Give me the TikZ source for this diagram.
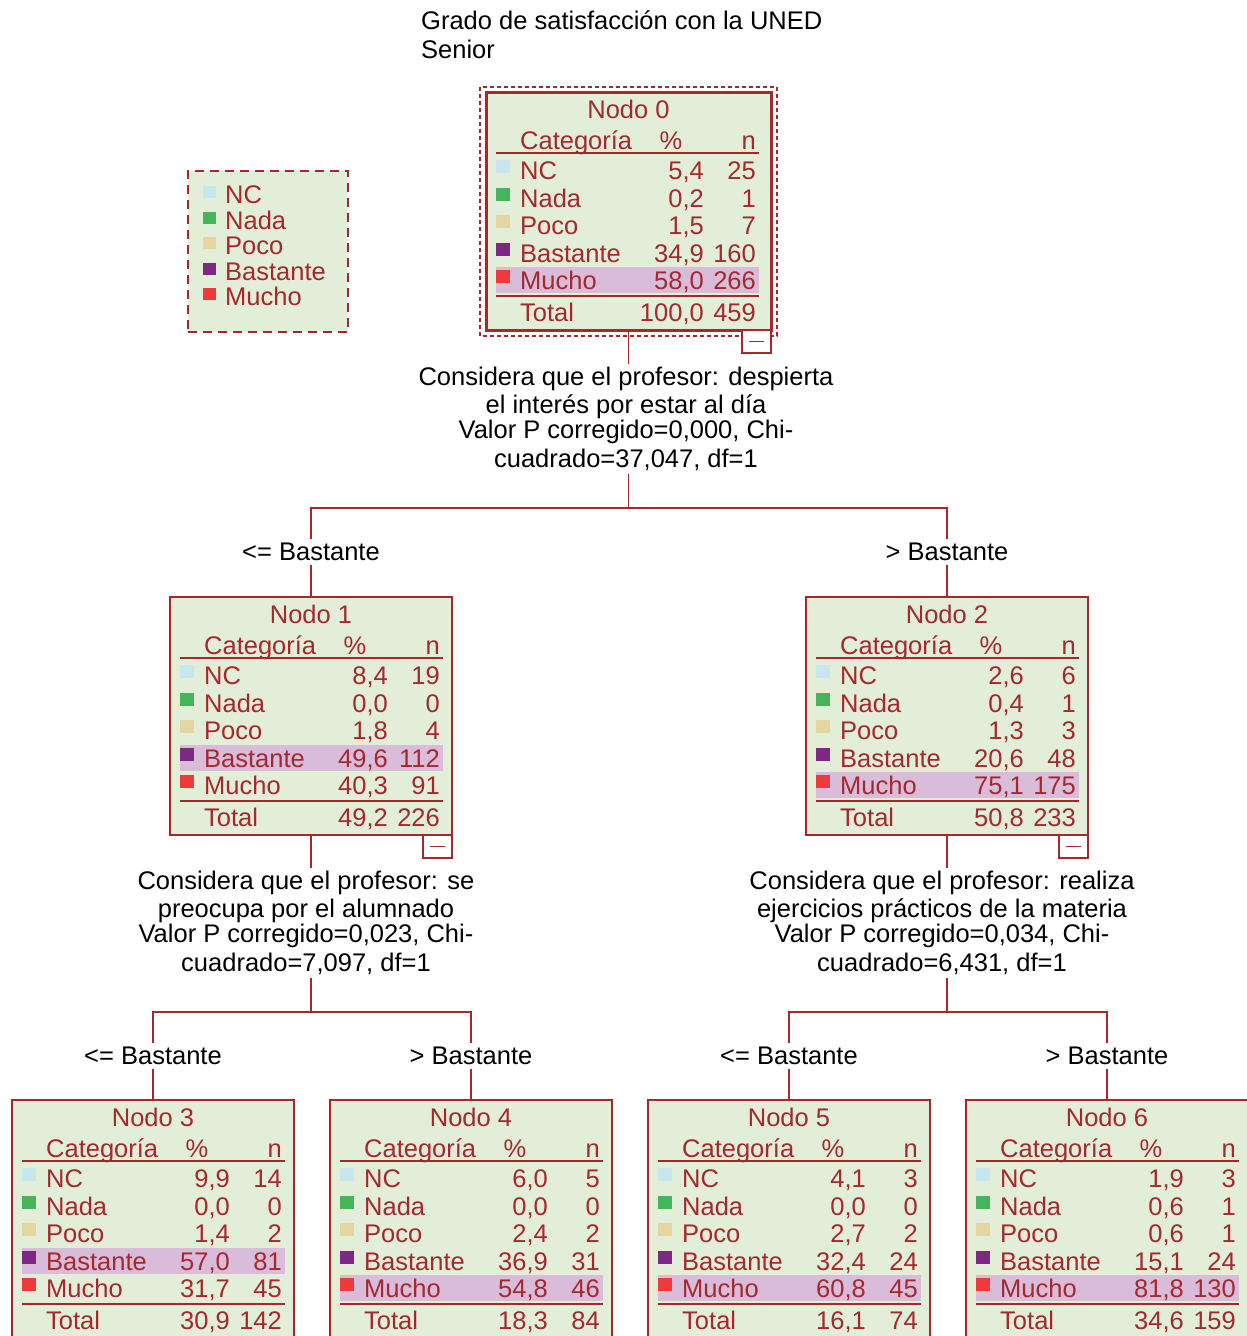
\documentclass[tikz,border=0pt]{standalone}
\usepackage{fontspec}
\setmainfont{Liberation Sans}
\usetikzlibrary{calc}
\definecolor{tred}{RGB}{165,40,45}
\definecolor{tfill}{RGB}{227,238,217}
\definecolor{thl}{RGB}{216,188,218}
\definecolor{cNC}{RGB}{200,230,238}
\definecolor{cNada}{RGB}{70,180,90}
\definecolor{cPoco}{RGB}{228,214,160}
\definecolor{cBas}{RGB}{125,40,130}
\definecolor{cMu}{RGB}{238,58,58}
\tikzset{
 tfont/.style={font=\fontsize{25.5}{28}\selectfont},
 boxstyle/.style={draw=tred, fill=tfill, line width=1.8pt, inner sep=0pt, outer sep=0pt},
 ttext/.style={text=tred, tfont, inner sep=0pt, anchor=mid, yshift=-7pt},
 tnum/.style={ttext, anchor=mid east},
 tlab/.style={ttext, anchor=mid west},
 tline/.style={draw=tred, line width=1.6pt},
 conn/.style={draw=tred, line width=1.8pt},
 plaintext/.style={text=black, tfont, inner sep=0pt},
 splittext/.style={plaintext, align=center, inner sep=3pt, anchor=north},
 branch/.style={plaintext, minimum height=26pt, anchor=center},
 cbox/.style={draw=tred, fill=white, line width=1.6pt, minimum width=29pt, minimum height=23pt,
   inner sep=0pt, outer sep=0pt, anchor=north east,
   path picture={\draw[tred, line width=1.6pt] ($(path picture bounding box.west)+(7,0)$) -- ($(path picture bounding box.east)+(-7,0)$);}},
}
% #1 name, #2 x, #3 y, #4 number, #5 rows pct/n, #6 highlighted row, #7 total pct, #8 total n, #9 width
\newcommand\treebox[9]{%
 \node[boxstyle, minimum width=#9, minimum height=238, anchor=north west] (#1) at (#2,#3) {};
 \begin{scope}[shift={(#2,#3)}]
  \node[ttext] (#1t) at (#9/2,17) {Nodo #4};
  \node[tlab] (#1h1) at (34,48) {Categoría};
  \node[ttext] (#1h2) at (185,48) {\%};
  \node[tnum] (#1h3) at (270,48) {n};
  \draw[tline] (10,61) -- (273,61);
  \foreach \p/\q [count=\i] in {#5} {
   \pgfmathsetmacro\ry{78+27.5*(\i-1)}
   \ifnum\i=#6\relax \fill[thl] (10,\ry-13) rectangle (273,\ry+13);\fi
   \node[tnum] (#1p\i) at (218,\ry) {\p};
   \node[tnum] (#1n\i) at (270,\ry) {\q};
  }
  \foreach \cat/\col [count=\i] in {NC/cNC, Nada/cNada, Poco/cPoco, Bastante/cBas, Mucho/cMu} {
   \pgfmathsetmacro\ry{78+27.5*(\i-1)}
   \fill[\col] (10,\ry-10) rectangle (24,\ry+3);
   \node[tlab] (#1c\i) at (34,\ry) {\cat};
  }
  \draw[tline] (10,204) -- (273,204);
  \node[tlab] (#1tl) at (34,220) {Total};
  \node[tnum] (#1tp) at (218,220) {#7};
  \node[tnum] (#1tn) at (270,220) {#8};
 \end{scope}}
\begin{document}
\begin{tikzpicture}[x=1pt,y=-1pt]
\path[use as bounding box] (0,0) rectangle (1247,1336);
\clip (0,0) rectangle (1247,1336);
\fill[white] (0,0) rectangle (1247,1336);

% title
\node[plaintext, anchor=mid west, yshift=-7pt] (title1) at (421,20) {Grado de satisfacción con la UNED};
\node[plaintext, anchor=mid west, yshift=-7pt] (title2) at (421,49) {Senior};

% legend
\node[draw=tred, fill=tfill, line width=2pt, dash pattern=on 9pt off 6pt,
  minimum width=160, minimum height=161, inner sep=0pt, anchor=north west] (leg) at (187,170) {};
\foreach \cat/\col [count=\i] in {NC/cNC, Nada/cNada, Poco/cPoco, Bastante/cBas, Mucho/cMu} {
  \pgfmathsetmacro\ly{194+25.5*(\i-1)}
  \fill[\col] (203,\ly-8) rectangle (216,\ly+4);
  \node[tlab] (leg\i) at (225,\ly) {\cat};
}

% nodes
\treebox{n0}{486}{92}{0}{5{,}4/25, 0{,}2/1, 1{,}5/7, 34{,}9/160, 58{,}0/266}{5}{100,0}{459}{285}
\draw[tred, line width=3pt] (n0.north west) rectangle (n0.south east);
\draw[tred, line width=1.2pt, dash pattern=on 4pt off 3pt] ($(n0.north west)+(-6,-5)$) rectangle ($(n0.south east)+(6,6)$);
\node[cbox] (c0) at (n0.south east) {};

\treebox{n1}{170}{597}{1}{8{,}4/19, 0{,}0/0, 1{,}8/4, 49{,}6/112, 40{,}3/91}{4}{49,2}{226}{282}
\node[cbox] (c1) at (n1.south east) {};
\treebox{n2}{806}{597}{2}{2{,}6/6, 0{,}4/1, 1{,}3/3, 20{,}6/48, 75{,}1/175}{5}{50,8}{233}{282}
\node[cbox] (c2) at (n2.south east) {};

\treebox{n3}{12}{1100}{3}{9{,}9/14, 0{,}0/0, 1{,}4/2, 57{,}0/81, 31{,}7/45}{4}{30,9}{142}{282}
\treebox{n4}{330}{1100}{4}{6{,}0/5, 0{,}0/0, 2{,}4/2, 36{,}9/31, 54{,}8/46}{5}{18,3}{84}{282}
\treebox{n5}{648}{1100}{5}{4{,}1/3, 0{,}0/0, 2{,}7/2, 32{,}4/24, 60{,}8/45}{5}{16,1}{74}{282}
\treebox{n6}{966}{1100}{6}{1{,}9/3, 0{,}6/1, 0{,}6/1, 15{,}1/24, 81{,}8/130}{5}{34,6}{159}{282}

% split texts
\node[splittext] (sp0) at (626,364) {Considera que el profesor: despierta\\ el interés por estar al día\\[-3pt] Valor P corregido=0,000, Chi-\\[1pt] cuadrado=37,047, df=1};
\node[splittext] (sp1) at (306,868) {Considera que el profesor: se\\ preocupa por el alumnado\\[-3pt] Valor P corregido=0,023, Chi-\\[1pt] cuadrado=7,097, df=1};
\node[splittext] (sp2) at (942,868) {Considera que el profesor: realiza\\ ejercicios prácticos de la materia\\[-3pt] Valor P corregido=0,034, Chi-\\[1pt] cuadrado=6,431, df=1};

% branch labels
\node[branch] (lab1) at (311,552) {<= Bastante};
\node[branch] (lab2) at (947,552) {> Bastante};
\node[branch] (lab3) at (153,1056) {<= Bastante};
\node[branch] (lab4) at (471,1056) {> Bastante};
\node[branch] (lab5) at (789,1056) {<= Bastante};
\node[branch] (lab6) at (1107,1056) {> Bastante};

% bar coordinates
\coordinate (bar0) at (628.5,508);
\coordinate (bar1) at (311,1012);
\coordinate (bar2) at (947,1012);

% connectors
\draw[conn] (n0.south) -- (n0.south |- sp0.north);
\draw[conn] (bar0 |- sp0.south) -- (bar0);
\draw[conn] (lab1.north) |- (bar0) -| (lab2.north);
\draw[conn] (lab1.south) -- (n1.north);
\draw[conn] (lab2.south) -- (n2.north);

\draw[conn] (n1.south) -- (n1.south |- sp1.north);
\draw[conn] (bar1 |- sp1.south) -- (bar1);
\draw[conn] (lab3.north) |- (bar1) -| (lab4.north);
\draw[conn] (lab3.south) -- (n3.north);
\draw[conn] (lab4.south) -- (n4.north);

\draw[conn] (n2.south) -- (n2.south |- sp2.north);
\draw[conn] (bar2 |- sp2.south) -- (bar2);
\draw[conn] (lab5.north) |- (bar2) -| (lab6.north);
\draw[conn] (lab5.south) -- (n5.north);
\draw[conn] (lab6.south) -- (n6.north);
\end{tikzpicture}
\end{document}
